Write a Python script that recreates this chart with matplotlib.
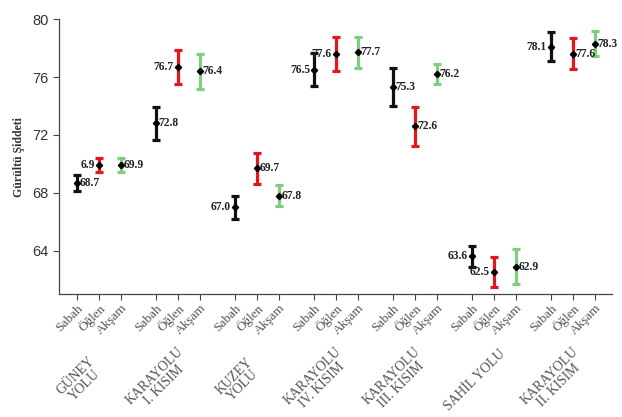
import matplotlib
matplotlib.use("Agg")
import matplotlib.pyplot as plt
from matplotlib.transforms import blended_transform_factory

groups = ["GÜNEY\nYOLU", "KARAYOLU\nI. KISIM", "KUZEY\nYOLU", "KARAYOLU\nIV. KISIM",
          "KARAYOLU\nIII. KISIM", "SAHİL YOLU", "KARAYOLU\nII. KISIM"]
times = ["Sabah", "Öğlen", "Akşam"]

means = [
    [68.7, 69.9, 69.9],
    [72.8, 76.7, 76.4],
    [67.0, 69.7, 67.8],
    [76.5, 77.6, 77.7],
    [75.3, 72.6, 76.2],
    [63.6, 62.5, 62.9],
    [78.1, 77.6, 78.3],
]
errs = [
    [0.55, 0.48, 0.50],
    [1.13, 1.17, 1.20],
    [0.80, 1.07, 0.72],
    [1.15, 1.17, 1.05],
    [1.30, 1.35, 0.70],
    [0.75, 1.05, 1.20],
    [1.00, 1.07, 0.85],
]
labels = [
    ["68.7", "6.9", "69.9"],
    ["72.8", "76.7", "76.4"],
    ["67.0", "69.7", "67.8"],
    ["76.5", "77.6", "77.7"],
    ["75.3", "72.6", "76.2"],
    ["63.6", "62.5", "62.9"],
    ["78.1", "77.6", "78.3"],
]
sides = [
    ["r", "l", "r"],
    ["r", "l", "r"],
    ["l", "r", "r"],
    ["l", "l", "r"],
    ["r", "r", "r"],
    ["l", "l", "r"],
    ["l", "r", "r"],
]
colors = ["#111111", "#e3161c", "#7fce7f"]

GAP = 3.6
fig = plt.figure(figsize=(6.22, 4.17), dpi=100)
ax = fig.add_axes([0.095, 0.295, 0.889, 0.659])

serif = ["Liberation Serif", "DejaVu Serif"]
sans = ["Liberation Sans", "DejaVu Sans"]
gray = "#555555"

positions = []
ticklabels = []
for g in range(len(groups)):
    for i in range(3):
        x = g * GAP + i
        positions.append(x)
        ticklabels.append(times[i])
        m = means[g][i]
        e = errs[g][i]
        ax.errorbar([x], [m], yerr=[e], fmt="none", ecolor=colors[i],
                    elinewidth=2.3, capsize=3.2, capthick=2.3, zorder=2)
        ax.plot([x], [m], marker="D", ms=3.2, color="black", zorder=3, ls="none")
        if sides[g][i] == "r":
            ax.annotate(labels[g][i], (x, m), xytext=(2, 0), textcoords="offset points",
                        ha="left", va="center", fontsize=8.3, fontweight="bold",
                        family=serif, color="#222222")
        else:
            ax.annotate(labels[g][i], (x, m), xytext=(-3, 0), textcoords="offset points",
                        ha="right", va="center", fontsize=8.3, fontweight="bold",
                        family=serif, color="#222222")

ax.set_ylim(61, 80)
ax.set_xlim(-0.82, (len(groups) - 1) * GAP + 2 + 0.78)
ax.set_yticks([64, 68, 72, 76, 80])
ax.set_xticks(positions)
ax.set_xticklabels(ticklabels, rotation=45, ha="right", rotation_mode="anchor",
                   family=serif, fontsize=9.5, color=gray)
for lab in ax.get_yticklabels():
    lab.set_family(sans)
    lab.set_fontsize(10.5)
    lab.set_color("#333333")
ax.tick_params(axis="both", direction="out", length=4, width=0.8, color="#444444")
ax.tick_params(axis="x", pad=2)
for s in ["top", "right"]:
    ax.spines[s].set_visible(False)
for s in ["left", "bottom"]:
    ax.spines[s].set_color("#444444")
    ax.spines[s].set_linewidth(0.9)

ax.set_ylabel("Gürültü Şiddeti", family=serif, fontsize=8.5, fontweight="bold",
              color="#333333", labelpad=5)

trans = blended_transform_factory(ax.transData, ax.transAxes)
for g, name in enumerate(groups):
    mid = g * GAP + 1
    ax.text(mid - 0.85, -0.315, name, transform=trans, rotation=45,
            ha="center", va="center", rotation_mode="anchor", multialignment="center",
            family=serif, fontsize=9.8, color=gray, linespacing=0.95)

fig.savefig("out.png", dpi=100)
